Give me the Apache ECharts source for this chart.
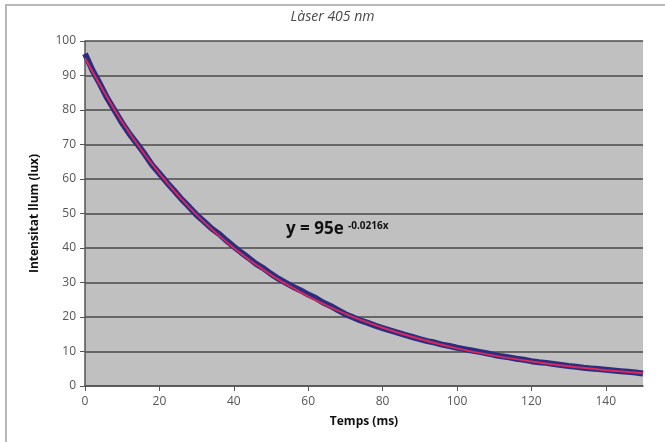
<!DOCTYPE html>
<html>
<head>
<meta charset="utf-8">
<script src="https://cdn.jsdelivr.net/npm/echarts@6/dist/echarts.min.js"></script>
<style>
  html, body { margin: 0; padding: 0; background: #fff; }
  #chart { width: 665px; height: 442px; }
</style>
</head>
<body>
<div id="chart"></div>
<script>
// mesures (ms, lux) llegides del gràfic
const tempsMesura = [0, 2, 4, 6, 8, 10, 12, 14, 16, 18, 20, 22, 24, 26, 28, 30, 32, 34, 36, 38,
  40, 42, 44, 46, 48, 50, 52, 54, 56, 58, 60, 62, 64, 66, 68, 70, 72, 74, 76, 78,
  80, 82, 84, 86, 88, 90, 92, 94, 96, 98, 100, 102, 104, 106, 108, 110, 112, 114, 116, 118,
  120, 122, 124, 126, 128, 130, 132, 134, 136, 138, 140, 142, 144, 146, 148, 150]
const llumMesura = [96.3, 91.5, 87.6, 83.4, 79.8, 76.2, 73.0, 70.2, 67.3, 64.1, 61.6, 59.0, 56.6, 54.1, 51.9, 49.6, 47.7, 45.7, 44.1, 42.2,
  40.4, 38.7, 37.1, 35.4, 34.1, 32.5, 31.1, 29.9, 28.7, 27.7, 26.5, 25.5, 24.2, 23.2, 22.0, 20.8, 19.9, 19.0, 18.3, 17.5,
  16.8, 16.1, 15.5, 14.8, 14.2, 13.6, 13.0, 12.6, 12.0, 11.6, 11.1, 10.7, 10.3, 9.9, 9.5, 9.0, 8.6, 8.3, 7.9, 7.6,
  7.2, 6.9, 6.7, 6.4, 6.1, 5.8, 5.6, 5.3, 5.1, 4.9, 4.7, 4.5, 4.3, 4.1, 3.9, 3.6]

// corba d'ajust (línia vermella)
const tempsAjust = [0, 10, 20, 30, 40, 50, 60, 70, 80, 90, 100, 110, 120, 130, 140, 150]
const llumAjust = [95, 76.5, 61.6, 49.6, 40.0, 32.2, 26.0, 20.9, 16.9, 13.6, 10.9, 8.8, 7.1, 5.7, 4.6, 3.7]

const ticksX = [0, 20, 40, 60, 80, 100, 120, 140]
const titol = 'Làser 405 nm'
const equacio = 'y = 95e'
const exponent = '-0.0216x'

let myChart = echarts.init(document.getElementById('chart'), null, { renderer: 'canvas' })

const fontFamily = '"Open Sans", "Noto Sans", sans-serif'

let option = {
  backgroundColor: '#fff',
  animation: false,
  title: {
    text: titol,
    left: 'center',
    top: 5,
    textStyle: {
      fontFamily: fontFamily,
      fontStyle: 'italic',
      fontWeight: 'normal',
      fontSize: 14,
      color: '#4a4a4a'
    }
  },
  grid: {
    left: 85,
    right: 22,
    top: 41,
    bottom: 56,
    show: true,
    backgroundColor: '#c0c0c0',
    borderWidth: 0
  },
  xAxis: {
    type: 'value',
    min: 0,
    max: 150,
    interval: 20,
    name: 'Temps (ms)',
    nameLocation: 'middle',
    nameGap: 30,
    nameTextStyle: { fontFamily: fontFamily, fontWeight: 'bold', fontSize: 12, color: '#111' },
    axisLine: { show: true, lineStyle: { color: '#555', width: 1.5 } },
    axisTick: { show: true, length: 5, lineStyle: { color: '#555' }, customValues: ticksX },
    axisLabel: { fontFamily: fontFamily, fontSize: 12, color: '#555', margin: 10, customValues: ticksX },
    splitLine: { show: false }
  },
  yAxis: {
    type: 'value',
    min: 0,
    max: 100,
    interval: 10,
    name: 'Intensitat llum (lux)',
    nameLocation: 'middle',
    nameGap: 44,
    nameTextStyle: { fontFamily: fontFamily, fontWeight: 'bold', fontSize: 12, color: '#111' },
    axisLine: { show: true, lineStyle: { color: '#555', width: 1.5 } },
    axisTick: { show: true, length: 5, lineStyle: { color: '#555' } },
    axisLabel: { fontFamily: fontFamily, fontSize: 12, color: '#555', margin: 9 },
    splitLine: { show: true, lineStyle: { color: '#4a4a4a', width: 1.5 } }
  },
  graphic: [
    {
      type: 'rect',
      silent: true,
      shape: { x: 6, y: 5, width: 700, height: 500 },
      style: { fill: 'none', stroke: '#b8b8b8', lineWidth: 2 }
    },
    {
      type: 'text',
      left: 286,
      top: 221,
      style: { text: equacio, fontFamily: fontFamily, fontWeight: 'bold', fontSize: 17, fill: '#111' }
    },
    {
      type: 'text',
      left: 348,
      top: 221,
      style: { text: exponent, fontFamily: fontFamily, fontWeight: 'bold', fontSize: 10, fill: '#111' }
    }
  ],
  series: [
    {
      name: 'mesura',
      type: 'line',
      data: tempsMesura.map((t, i) => [t, llumMesura[i]]),
      showSymbol: false,
      lineStyle: { color: '#2b2d80', width: 6 },
      z: 2
    },
    {
      name: 'ajust',
      type: 'line',
      smooth: 0.3,
      data: tempsAjust.map((t, i) => [t, llumAjust[i]]),
      showSymbol: false,
      lineStyle: { color: '#d8285c', width: 2 },
      z: 3
    }
  ]
}

myChart.setOption(option)
</script>
</body>
</html>
